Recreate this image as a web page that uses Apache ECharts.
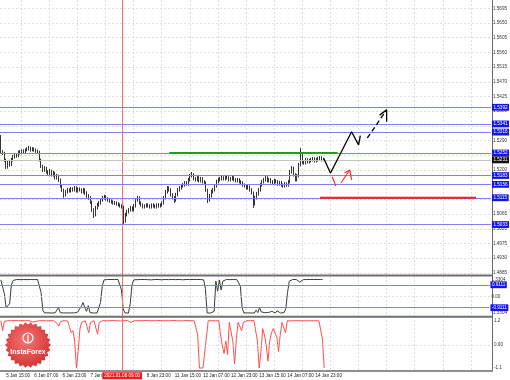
<!DOCTYPE html>
<html><head><meta charset="utf-8">
<script src="https://cdn.jsdelivr.net/npm/echarts@6/dist/echarts.min.js"></script>
<style>html,body{margin:0;padding:0;background:#fff}#c{width:510px;height:380px}</style>
</head><body><div id="c"></div>
<script>
// ---------------- DATA ----------------
const N_SLOTS = 280; // hourly slots from 5 Jan 12:00 (incl. empty future area)
const xTickIndex  = [3, 19, 35, 51, 83, 99, 115, 131, 147, 163, 179];
const xTickLabels = ['5 Jan 15:00','6 Jan 07:00','6 Jan 23:00','7 Jan 15:00','8 Jan 23:00','11 Jan 15:00','12 Jan 07:00','12 Jan 23:00','13 Jan 15:00','14 Jan 07:00','14 Jan 23:00'];
const cursorIndex = 69;
const cursorLabel = '2021.01.08 09:00';

const priceTickLabels = ['1.5695','1.5650','1.5605','1.5560','1.5515','1.5470','1.5425','1.5380','1.5290','1.5200','1.5065','1.5020','1.4975','1.4930','1.4885'];

const firstOpen = 1.5301;
const closes = [
1.5255,1.5252,1.5231,1.5209,1.5222,1.5216,1.5231,1.5240,1.5246,1.5243,
1.5255,1.5252,1.5258,1.5255,1.5261,1.5265,1.5268,1.5261,1.5265,1.5261,
1.5258,1.5255,1.5231,1.5212,1.5200,1.5206,1.5194,1.5188,1.5197,1.5185,
1.5191,1.5176,1.5182,1.5170,1.5151,1.5139,1.5124,1.5133,1.5139,1.5136,
1.5142,1.5139,1.5145,1.5136,1.5142,1.5139,1.5133,1.5139,1.5130,1.5121,
1.5115,1.5102,1.5078,1.5063,1.5084,1.5093,1.5099,1.5108,1.5115,1.5118,
1.5112,1.5108,1.5105,1.5102,1.5099,1.5099,1.5096,1.5093,1.5090,1.5087,
1.5044,1.5063,1.5072,1.5078,1.5084,1.5078,1.5090,1.5108,1.5115,1.5099,
1.5093,1.5087,1.5090,1.5093,1.5090,1.5087,1.5093,1.5090,1.5087,1.5093,
1.5090,1.5093,1.5099,1.5115,1.5133,1.5145,1.5139,1.5124,1.5115,1.5108,
1.5124,1.5139,1.5145,1.5151,1.5154,1.5161,1.5157,1.5170,1.5182,1.5185,
1.5173,1.5170,1.5176,1.5167,1.5173,1.5164,1.5161,1.5139,1.5108,1.5121,
1.5133,1.5139,1.5151,1.5164,1.5170,1.5173,1.5176,1.5173,1.5179,1.5176,
1.5170,1.5173,1.5176,1.5170,1.5167,1.5170,1.5164,1.5161,1.5154,1.5151,
1.5145,1.5148,1.5139,1.5130,1.5096,1.5115,1.5127,1.5139,1.5154,1.5164,
1.5170,1.5176,1.5167,1.5170,1.5164,1.5161,1.5167,1.5164,1.5157,1.5161,
1.5154,1.5151,1.5157,1.5154,1.5164,1.5194,1.5206,1.5185,1.5170,1.5182,
1.5216,1.5246,1.5225,1.5222,1.5231,1.5225,1.5228,1.5231,1.5234,1.5228,
1.5231,1.5234,1.5237,1.5231,1.5231];
const highs = [
1.5307,1.5261,1.5256,1.5235,1.5228,1.5228,1.5237,1.5246,1.5252,1.5251,
1.5260,1.5261,1.5263,1.5263,1.5266,1.5270,1.5274,1.5272,1.5270,1.5269,
1.5266,1.5263,1.5259,1.5235,1.5216,1.5212,1.5210,1.5199,1.5203,1.5201,
1.5197,1.5195,1.5188,1.5186,1.5174,1.5156,1.5143,1.5139,1.5145,1.5144,
1.5148,1.5147,1.5151,1.5150,1.5147,1.5147,1.5144,1.5145,1.5144,1.5135,
1.5126,1.5120,1.5106,1.5083,1.5090,1.5099,1.5105,1.5114,1.5121,1.5124,
1.5123,1.5117,1.5113,1.5110,1.5107,1.5105,1.5104,1.5101,1.5098,1.5095,
1.5091,1.5069,1.5078,1.5084,1.5090,1.5089,1.5096,1.5114,1.5121,1.5119,
1.5104,1.5098,1.5095,1.5098,1.5098,1.5095,1.5098,1.5098,1.5095,1.5098,
1.5098,1.5098,1.5104,1.5120,1.5139,1.5151,1.5150,1.5144,1.5129,1.5120,
1.5130,1.5145,1.5151,1.5157,1.5160,1.5166,1.5166,1.5176,1.5188,1.5194,
1.5190,1.5179,1.5182,1.5181,1.5179,1.5178,1.5169,1.5165,1.5143,1.5127,
1.5139,1.5145,1.5157,1.5170,1.5176,1.5179,1.5182,1.5181,1.5185,1.5184,
1.5181,1.5179,1.5182,1.5181,1.5175,1.5176,1.5175,1.5169,1.5166,1.5159,
1.5156,1.5154,1.5153,1.5144,1.5134,1.5121,1.5133,1.5145,1.5160,1.5170,
1.5176,1.5182,1.5181,1.5176,1.5175,1.5169,1.5173,1.5172,1.5169,1.5167,
1.5166,1.5159,1.5163,1.5162,1.5170,1.5200,1.5212,1.5210,1.5190,1.5188,
1.5222,1.5268,1.5251,1.5230,1.5237,1.5236,1.5234,1.5237,1.5240,1.5239,
1.5237,1.5240,1.5243,1.5242,1.5236];
const lows = [
1.5249,1.5246,1.5225,1.5203,1.5204,1.5210,1.5212,1.5226,1.5235,1.5238,
1.5239,1.5247,1.5248,1.5250,1.5251,1.5257,1.5260,1.5256,1.5257,1.5256,
1.5253,1.5249,1.5226,1.5206,1.5194,1.5195,1.5189,1.5182,1.5184,1.5180,
1.5180,1.5171,1.5171,1.5163,1.5146,1.5133,1.5115,1.5119,1.5128,1.5131,
1.5131,1.5134,1.5134,1.5131,1.5131,1.5134,1.5128,1.5128,1.5124,1.5115,
1.5109,1.5096,1.5072,1.5053,1.5058,1.5079,1.5088,1.5094,1.5103,1.5110,
1.5107,1.5103,1.5100,1.5097,1.5094,1.5093,1.5091,1.5088,1.5085,1.5082,
1.5035,1.5039,1.5058,1.5067,1.5073,1.5073,1.5073,1.5085,1.5103,1.5094,
1.5088,1.5082,1.5082,1.5085,1.5085,1.5082,1.5082,1.5085,1.5082,1.5082,
1.5085,1.5085,1.5088,1.5094,1.5110,1.5128,1.5134,1.5119,1.5110,1.5099,
1.5103,1.5119,1.5134,1.5140,1.5146,1.5149,1.5152,1.5152,1.5165,1.5177,
1.5168,1.5165,1.5165,1.5162,1.5162,1.5159,1.5156,1.5133,1.5099,1.5103,
1.5116,1.5128,1.5134,1.5146,1.5159,1.5165,1.5168,1.5168,1.5168,1.5171,
1.5165,1.5165,1.5168,1.5165,1.5162,1.5162,1.5159,1.5156,1.5149,1.5146,
1.5140,1.5140,1.5134,1.5125,1.5084,1.5091,1.5110,1.5122,1.5134,1.5149,
1.5159,1.5165,1.5162,1.5162,1.5159,1.5156,1.5156,1.5159,1.5152,1.5152,
1.5149,1.5146,1.5146,1.5149,1.5149,1.5159,1.5189,1.5180,1.5165,1.5165,
1.5177,1.5211,1.5219,1.5216,1.5217,1.5220,1.5220,1.5223,1.5226,1.5223,
1.5223,1.5226,1.5229,1.5226,1.5227];

const blueLevels = [1.5392, 1.5341, 1.5316, 1.5252, 1.5183, 1.5156, 1.5115, 1.5033];
const currentPrice = 1.5231;
const greenLevel = { from: 96, to: 192, value: 1.5252 };
const redLevel   = { from: 182, to: 271, value: 1.5115 };
const blackPath  = [[184, 1.5237], [188, 1.5191], [200, 1.5317], [204, 1.5277], [205, 1.5305]];
const blackDash  = [[209, 1.5298], [220, 1.5384]];
const blackHead  = [[216, 1.5368], [220, 1.5384], [220, 1.5348]];
const redSeg1    = [[189, 1.5179], [191, 1.5151]];
const redSeg2    = [[194, 1.5161], [199, 1.5200]];
const redHead    = [[196, 1.5191], [199, 1.5200], [200, 1.5170]];

const osc1 = [
1.30,1.28,0.20,-0.90,-1.00,-0.60,0.90,1.25,1.32,1.33,
1.33,1.32,1.33,1.33,1.33,1.32,1.33,1.33,1.33,1.32,
1.33,1.33,1.20,0.30,-1.10,-1.33,-1.33,-1.32,-1.33,-1.33,
-1.33,-1.32,-1.20,-0.90,-1.30,-1.33,-1.33,-1.33,-1.32,-1.33,
-1.33,-1.33,-1.32,-1.33,-1.25,-1.10,-0.80,-0.50,-0.90,-1.20,
-0.75,-1.30,-1.33,-1.33,-1.33,-1.33,-1.33,-0.50,0.80,1.30,
1.33,1.33,1.33,1.33,1.32,1.33,1.33,1.33,1.20,0.50,
-1.00,-1.33,-1.33,-1.33,-0.60,0.90,1.30,1.33,1.32,1.33,
1.33,1.31,1.33,1.33,1.32,1.33,1.30,1.33,1.33,1.32,
1.33,1.33,1.31,1.33,1.33,1.33,1.32,1.33,1.33,1.33,
1.32,1.33,1.33,1.33,1.31,1.33,1.33,1.33,1.33,1.32,
1.33,1.33,1.33,1.32,1.33,1.33,1.30,0.60,-1.33,-1.33,
-1.33,-1.33,-1.20,1.20,0.40,1.30,0.50,1.20,1.33,1.33,
1.33,1.32,1.33,1.33,1.33,1.32,1.33,0.80,-0.90,-1.33,
-1.33,-1.32,-1.33,-1.33,-1.30,-1.33,-1.10,-1.30,-0.90,-1.25,
-1.10,-1.30,-1.33,-1.30,-1.33,-1.20,-1.30,-1.33,-1.15,-1.30,
-1.33,-1.32,-1.30,-1.00,0.30,1.20,1.33,1.33,1.32,1.33,
1.25,1.12,1.25,1.32,1.33,1.33,1.32,1.33,1.33,1.33,
1.32,1.33,1.33,1.33,1.33];
const osc1Levels = [0.9111, -0.9111];

const osc2 = [
1.18,0.70,1.15,1.18,1.18,1.17,1.18,1.18,1.19,1.18,
1.18,1.17,1.18,1.18,1.18,1.19,1.18,1.18,1.12,1.08,
1.15,1.18,1.18,1.17,1.18,1.18,1.18,1.19,1.18,1.18,
1.18,1.17,1.05,0.92,1.15,1.18,1.18,1.18,1.17,0.90,
0.60,0.70,0.20,-1.10,-0.30,0.80,1.10,1.18,1.18,0.90,
0.60,1.10,1.18,1.18,1.17,0.53,1.10,1.18,1.18,1.18,
1.18,1.17,1.18,1.18,1.19,1.18,1.18,1.18,1.17,1.18,
1.18,1.18,1.19,1.18,1.10,1.18,1.18,1.17,1.18,1.18,
1.18,1.18,1.19,1.18,1.18,1.17,1.18,1.18,1.18,1.18,
1.19,1.18,1.18,1.17,1.18,1.18,1.18,1.18,1.19,1.18,
1.18,1.18,1.17,1.18,1.18,1.18,1.19,1.18,1.18,1.18,
1.18,1.18,0.50,-1.10,-1.10,-1.10,-1.10,0.40,1.18,1.18,
1.18,1.17,1.18,1.18,1.18,0.50,0.00,-0.40,0.20,-0.45,
1.10,1.18,0.20,-0.90,0.30,1.10,1.18,0.70,1.10,1.18,
1.18,1.17,1.18,1.18,1.19,1.18,0.20,-1.10,-0.30,0.80,
0.50,0.00,-0.77,0.20,0.60,0.80,0.80,0.40,-0.30,0.50,
1.10,1.18,0.60,1.18,1.18,1.17,1.18,1.18,1.19,1.18,
1.18,1.18,1.17,1.18,1.18,1.18,1.19,1.18,1.18,1.18,
1.18,1.17,1.18,0.30,-1.10];

// ---------------- CHART ----------------
const FONT = 'Liberation Sans, Arial, sans-serif';
const FS = 4.6;
const BLUE_LINE = '#7f7ff6';
const BLUE_BOX = '#1414f0';
const slots = Array.from({ length: N_SLOTS }, (_, i) => String(i));
const opens = closes.map((c, i) => (i === 0 ? firstOpen : closes[i - 1]));
const candleData = closes.map((c, i) => [opens[i], c, lows[i], highs[i]]);

function boxLabel(bg, digits) {
  return {
    show: true, position: 'end', distance: 1,
    formatter: p => Number(p.value).toFixed(digits),
    color: '#fff', backgroundColor: bg, fontSize: FS, fontFamily: FONT,
    padding: [1.2, 1.5, 0.6, 1.5]
  };
}
const hidden = { show: false };
function catAxis(gi, extra) {
  return Object.assign({
    type: 'category', gridIndex: gi, data: slots, boundaryGap: true,
    axisLine: hidden, axisTick: hidden, axisLabel: hidden, splitLine: hidden
  }, extra || {});
}
const axisLabelBase = { fontSize: FS, fontFamily: FONT, color: '#333', margin: 2 };

const option = {
  animation: false,
  backgroundColor: '#ffffff',
  grid: [
    { left: 0, width: 492, top: 8.3, height: 264.6 },
    { left: 0, width: 492, top: 279.5, height: 33.5 },
    { left: 0, width: 492, top: 320.3, height: 47.7 },
    { left: 0, width: 492, top: 0, height: 371 }
  ],
  xAxis: [
    catAxis(0), catAxis(1), catAxis(2),
    catAxis(3, {
      position: 'bottom',
      axisLine: { show: true, lineStyle: { color: '#6a6a6a', width: 1.5 } },
      axisLabel: Object.assign({}, axisLabelBase, {
        align: 'left', margin: 2.5, color: '#222',
        interval: (idx) => xTickIndex.indexOf(idx) >= 0,
        formatter: (v, idx) => { const k = xTickIndex.indexOf(Number(v)); return k >= 0 ? xTickLabels[k] : ''; }
      }),
      splitLine: {
        show: true,
        interval: (idx) => idx >= 12 && (idx - 12) % 16 === 0,
        lineStyle: { color: '#d6d6d6', type: [2, 2], width: 0.8 }
      }
    })
  ],
  yAxis: [
    {
      type: 'value', gridIndex: 0, position: 'right', min: 1.4885, max: 1.5695, interval: 0.0045,
      axisLine: hidden, axisTick: hidden,
      axisLabel: Object.assign({}, axisLabelBase, {
        formatter: v => { const s = v.toFixed(4); return priceTickLabels.indexOf(s) >= 0 ? s : ''; }
      }),
      splitLine: { show: true, lineStyle: { color: '#d6d6d6', type: [2, 2], width: 0.8 } }
    },
    {
      type: 'value', gridIndex: 1, position: 'right', min: -1.3304, max: 1.3304, interval: 1.3304,
      axisLine: hidden, axisTick: hidden, splitLine: hidden,
      axisLabel: Object.assign({}, axisLabelBase, {
        formatter: v => (Math.abs(v) < 1e-9 ? '0.00' : v.toFixed(4))
      })
    },
    {
      type: 'value', gridIndex: 2, position: 'right', min: -1.1, max: 1.2, interval: 1.1,
      axisLine: hidden, axisTick: hidden, splitLine: hidden,
      axisLabel: Object.assign({}, axisLabelBase, {
        formatter: v => (Math.abs(v) < 1e-9 ? '0.00' : (Math.abs(v - 1.1) < 1e-9 ? '' : v.toFixed(1)))
      })
    },
    {
      type: 'value', gridIndex: 3, position: 'right', min: 0, max: 1,
      axisLine: { show: true, lineStyle: { color: '#6a6a6a', width: 1 } },
      axisTick: hidden, axisLabel: hidden, splitLine: hidden
    }
  ],
  series: [
    {
      type: 'line', xAxisIndex: 3, yAxisIndex: 3, data: [[0, 0.5]], showSymbol: false,
      lineStyle: { opacity: 0 }, silent: true, z: 1,
      markLine: {
        silent: true, symbol: ['none', 'none'],
        lineStyle: { color: '#ff6a6a', width: 1, type: 'solid' },
        label: {
          show: true, position: 'start', distance: 1.2, formatter: cursorLabel,
          color: '#fff', backgroundColor: '#f01c1c', fontSize: FS, fontFamily: FONT, padding: [1.3, 2, 0.8, 2]
        },
        data: [{ xAxis: cursorIndex }]
      }
    },
    {
      type: 'candlestick', xAxisIndex: 0, yAxisIndex: 0, data: candleData, barWidth: 1.3, z: 4,
      itemStyle: { color: '#ffffff', color0: '#000000', borderColor: '#000000', borderColor0: '#000000', borderWidth: 0.8 },
      markLine: {
        silent: true, symbol: ['none', 'none'], precision: 4,
        data: blueLevels.map(v => ({ yAxis: v, lineStyle: { color: BLUE_LINE, width: 1, type: 'solid' }, label: boxLabel(BLUE_BOX, 4) }))
          .concat([{ yAxis: currentPrice, lineStyle: { color: '#c4c4c4', width: 1, type: 'solid' }, label: boxLabel('#111111', 4) }])
      }
    },
    { type: 'line', xAxisIndex: 0, yAxisIndex: 0, z: 5, showSymbol: false, silent: true,
      data: [[greenLevel.from, greenLevel.value], [greenLevel.to, greenLevel.value]],
      lineStyle: { color: '#1e9e1e', width: 2 } },
    { type: 'line', xAxisIndex: 0, yAxisIndex: 0, z: 5, showSymbol: false, silent: true,
      data: [[redLevel.from, redLevel.value], [redLevel.to, redLevel.value]],
      lineStyle: { color: '#ee2020', width: 2 } },
    { type: 'line', xAxisIndex: 0, yAxisIndex: 0, z: 6, showSymbol: false, silent: true,
      data: blackPath, lineStyle: { color: '#000', width: 1.3 } },
    { type: 'line', xAxisIndex: 0, yAxisIndex: 0, z: 6, showSymbol: false, silent: true,
      data: blackDash, lineStyle: { color: '#000', width: 1.3, type: [5, 3] } },
    { type: 'line', xAxisIndex: 0, yAxisIndex: 0, z: 6, showSymbol: false, silent: true,
      data: blackHead, lineStyle: { color: '#000', width: 1.3 } },
    { type: 'line', xAxisIndex: 0, yAxisIndex: 0, z: 6, showSymbol: false, silent: true,
      data: redSeg1, lineStyle: { color: '#ff2a2a', width: 1.2 } },
    { type: 'line', xAxisIndex: 0, yAxisIndex: 0, z: 6, showSymbol: false, silent: true,
      data: redSeg2, lineStyle: { color: '#ff2a2a', width: 1.2 } },
    { type: 'line', xAxisIndex: 0, yAxisIndex: 0, z: 6, showSymbol: false, silent: true,
      data: redHead, lineStyle: { color: '#ff2a2a', width: 1.2 } },
    {
      type: 'line', xAxisIndex: 1, yAxisIndex: 1, data: osc1, showSymbol: false, silent: true, clip: false, z: 4,
      lineStyle: { color: '#3a3a3a', width: 1 },
      markLine: {
        silent: true, symbol: ['none', 'none'], precision: 4,
        data: osc1Levels.map(v => ({ yAxis: v, lineStyle: { color: BLUE_LINE, width: 1, type: 'solid' }, label: boxLabel(BLUE_BOX, 4) }))
          .concat([{ yAxis: 0, lineStyle: { color: '#d6d6d6', width: 0.8, type: [2, 2] }, label: { show: false } }])
      }
    },
    {
      type: 'line', xAxisIndex: 2, yAxisIndex: 2, data: osc2, showSymbol: false, silent: true, clip: false, z: 4,
      lineStyle: { color: '#ff5050', width: 1 },
      markLine: {
        silent: true, symbol: ['none', 'none'],
        data: [{ yAxis: 0, lineStyle: { color: '#d6d6d6', width: 0.8, type: [2, 2] }, label: { show: false } }]
      }
    }
  ]
};

// decorations: pane separators and logo seal
const starPts = [];
const SP = 26, RO = 23, RI = 20.5, CX = 28, CY = 345;
for (let k = 0; k < SP * 2; k++) {
  const a = Math.PI * k / SP;
  const rr = k % 2 ? RI : RO;
  starPts.push([CX + rr * Math.cos(a), CY + rr * Math.sin(a)]);
}
option.graphic = [
  { type: 'line', z: 50, shape: { x1: 0, y1: 275.6, x2: 492, y2: 275.6 }, style: { stroke: '#707070', lineWidth: 2 } },
  { type: 'line', z: 50, shape: { x1: 0, y1: 316.8, x2: 492, y2: 316.8 }, style: { stroke: '#707070', lineWidth: 2 } },
  { type: 'polygon', z: 60, shape: { points: starPts },
    style: { fill: { type: 'radial', x: 0.45, y: 0.4, r: 0.6, colorStops: [{ offset: 0, color: '#f46a6a' }, { offset: 1, color: '#d02222' }] }, opacity: 0.92 } },
  { type: 'circle', z: 61, shape: { cx: CX, cy: CY - 7, r: 5 }, style: { fill: 'none', stroke: '#fff', lineWidth: 1.2 } },
  { type: 'line', z: 61, shape: { x1: CX, y1: CY - 10, x2: CX, y2: CY - 3 }, style: { stroke: '#fff', lineWidth: 1.2 } },
  { type: 'text', z: 61, x: CX, y: CY + 7, style: { text: 'InstaForex', fill: '#fff', font: 'bold 7px ' + FONT, textAlign: 'center', textVerticalAlign: 'middle' } }
];

const chart = echarts.init(document.getElementById('c'));
chart.setOption(option);
</script>
</body></html>
